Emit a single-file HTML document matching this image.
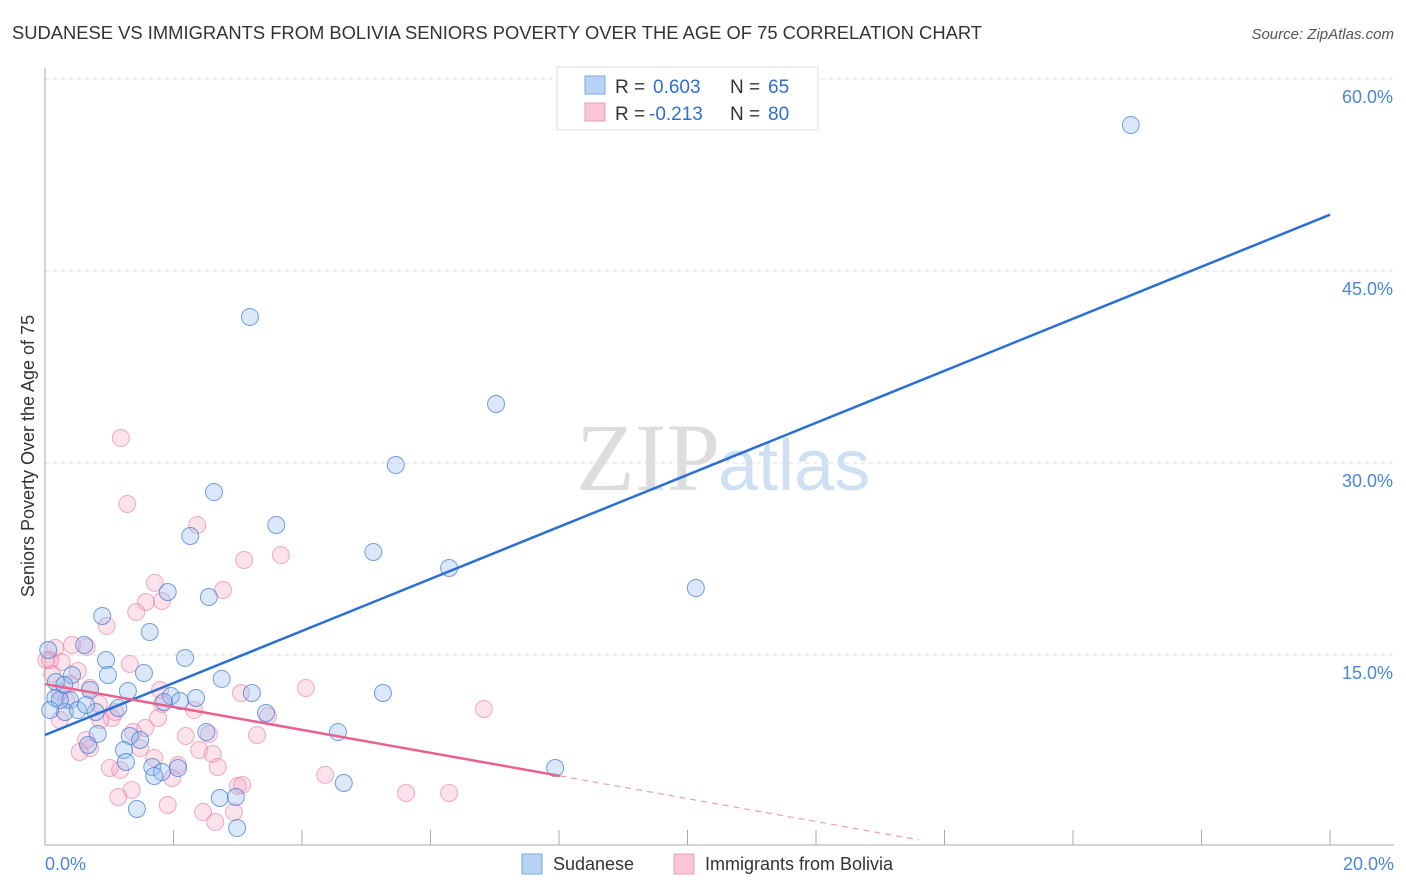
<!DOCTYPE html>
<html><head><meta charset="utf-8"><style>
body{margin:0;background:#fff;font-family:"Liberation Sans",sans-serif}
#c{position:absolute;left:0;top:0}
</style></head><body>
<svg id="c" width="1406" height="892">
<text x="12" y="39" font-size="18" fill="#333" textLength="970" lengthAdjust="spacingAndGlyphs">SUDANESE VS IMMIGRANTS FROM BOLIVIA SENIORS POVERTY OVER THE AGE OF 75 CORRELATION CHART</text>
<text x="1394" y="39" font-size="15" fill="#555" font-style="italic" text-anchor="end">Source: ZipAtlas.com</text>
<text x="720" y="490" font-size="96" fill="#ddd" text-anchor="end" font-family="Liberation Serif">ZIP</text>
<text x="718" y="490" font-size="72" fill="#cfe0f3">atlas</text>
<g id="grid"></g>
<g id="axes"></g>
<g id="pts"></g>
<g id="lines"></g>
<text transform="translate(34,456) rotate(-90)" font-size="18" fill="#333" text-anchor="middle">Seniors Poverty Over the Age of 75</text>
<text x="45" y="870" font-size="18" fill="#4a86d8">0.0%</text>
<text x="1394" y="870" font-size="18" fill="#4a86d8" text-anchor="end">20.0%</text>
<g>
<rect x="557" y="67" width="261" height="63" fill="#fff" stroke="#ddd"/>
<rect x="585" y="76" width="20" height="18" fill="#b9d3f5" stroke="#7aa7e3"/>
<rect x="585" y="103" width="20" height="18" fill="#f9c6d5" stroke="#eb9ab4"/>
<text x="615" y="93" font-size="19" fill="#333">R =</text>
<text x="653" y="93" font-size="19" fill="#2f6fd0">0.603</text>
<text x="730" y="93" font-size="19" fill="#333">N =</text>
<text x="768" y="93" font-size="19" fill="#2f6fd0">65</text>
<text x="615" y="120" font-size="19" fill="#333">R =</text>
<text x="649" y="120" font-size="19" fill="#2f6fd0">-0.213</text>
<text x="730" y="120" font-size="19" fill="#333">N =</text>
<text x="768" y="120" font-size="19" fill="#2f6fd0">80</text>
</g>
<g>
<rect x="522" y="854" width="20" height="20" fill="#b9d3f5" stroke="#7aa7e3"/>
<text x="553" y="870" font-size="18" fill="#333">Sudanese</text>
<rect x="674" y="854" width="20" height="20" fill="#f9c6d5" stroke="#eb9ab4"/>
<text x="705" y="870" font-size="18" fill="#333">Immigrants from Bolivia</text>
</g>
</svg>
<script>
const yTicks=[15,30,45,60];
const yTickLabels=["15.0%","30.0%","45.0%","60.0%"];
const xTicks=[0,2,4,6,8,10,12,14,16,18,20];
const bluePx=[[1131,125],[250,317],[496,404],[396,465],[214,492],[276,525],[190,536],[373,552],[449,568],[696,588],[168,592],[209,597],[102,616],[150,632],[84,645],[48,650],[185,658],[106,660],[144,673],[72,675],[108,675],[222,679],[56,682],[64,685],[128,691],[252,693],[383,693],[171,696],[196,698],[55,698],[180,701],[70,700],[164,702],[118,708],[96,712],[65,712],[266,713],[78,710],[338,732],[98,734],[130,736],[206,732],[140,740],[88,745],[124,750],[126,762],[152,767],[162,772],[178,768],[154,776],[344,783],[555,768],[220,798],[236,797],[137,809],[237,828],[60,700],[86,705],[50,710],[90,690]];
const pinkPx=[[121,438],[127,504],[197,525],[244,560],[281,555],[155,583],[223,590],[146,602],[162,601],[136,612],[107,626],[72,645],[87,647],[55,648],[46,660],[62,662],[130,664],[78,671],[52,674],[70,684],[90,688],[60,692],[306,688],[241,693],[162,704],[99,704],[115,712],[194,710],[158,718],[268,716],[484,709],[60,720],[112,718],[145,728],[133,732],[186,736],[209,734],[257,735],[86,740],[90,748],[140,748],[199,750],[213,754],[178,765],[218,767],[110,768],[154,758],[325,775],[172,778],[238,786],[242,785],[132,790],[118,797],[406,793],[449,793],[168,805],[203,812],[215,822],[234,812],[160,690],[100,720],[66,700],[50,660],[120,770],[80,752]];
const blueX=bluePx.map(p=>+((p[0]-45)/64.25).toFixed(2));
const blueY=bluePx.map(p=>+((847-p[1])/12.8).toFixed(2));
const pinkX=pinkPx.map(p=>+((p[0]-45)/64.25).toFixed(2));
const pinkY=pinkPx.map(p=>+((847-p[1])/12.8).toFixed(2));
const blueTrend=[8.75,49.4];
const pinkTrend=[12.73,-0.895];
const X=v=>45+v*64.25, Y=v=>847-v*12.8;
const NS="http://www.w3.org/2000/svg";
function mk(t,a,p){const e=document.createElementNS(NS,t);for(const k in a)e.setAttribute(k,a[k]);p.appendChild(e);return e;}
const grid=document.getElementById('grid'),axes=document.getElementById('axes'),pts=document.getElementById('pts'),lines=document.getElementById('lines');
yTicks.forEach((v,i)=>{
 const l=mk('line',{x1:45,x2:1394,y1:Y(v),y2:Y(v),stroke:'#ddd','stroke-dasharray':'4,4'},grid);
 
 
 const t=mk('text',{x:1393,y:Y(v)+24,'font-size':18,fill:'#4a86d8','text-anchor':'end'},grid);
 t.textContent=yTickLabels[i];
 
 
});
const tl=mk('line',{x1:45,x2:1394,y1:79,y2:79,stroke:'#ddd','stroke-dasharray':'4,4'},grid);


const ya=mk('line',{x1:45,x2:45,y1:68,y2:845,stroke:'#aaa'},axes);


const xa=mk('line',{x1:45,x2:1394,y1:845,y2:845,stroke:'#aaa'},axes);


xTicks.forEach(v=>{const t=mk('line',{x1:X(v),x2:X(v),y1:830,y2:845,stroke:'#aaa'},axes);
 
 });
function dots(xs,ys,fill,stroke,name){xs.forEach((x,i)=>{const c=mk('circle',{cx:X(x),cy:Y(ys[i]),r:8.5,fill:fill,stroke:stroke,'stroke-width':1},pts);
 
 });}
dots(pinkX,pinkY,'rgba(245,160,190,0.3)','rgba(230,120,160,0.6)','bolivia-point');
dots(blueX,blueY,'rgba(150,190,240,0.35)','rgba(60,120,210,0.7)','sudanese-point');
const bl=mk('line',{x1:X(0),y1:Y(blueTrend[0]),x2:X(20),y2:Y(blueTrend[1]),stroke:'#2a6fd6','stroke-width':2.5},lines);


const pf=x=>pinkTrend[0]+pinkTrend[1]*x;
const pl=mk('line',{x1:X(0),y1:Y(pf(0)),x2:X(8.02),y2:Y(pf(8.02)),stroke:'#e8628f','stroke-width':2.5},lines);


const pd=mk('line',{x1:X(8.02),y1:Y(pf(8.02)),x2:X(13.6),y2:Y(pf(13.6)),stroke:'#e8a0b8','stroke-width':1.2,'stroke-dasharray':'6,5'},lines);


</script>
</body></html>
